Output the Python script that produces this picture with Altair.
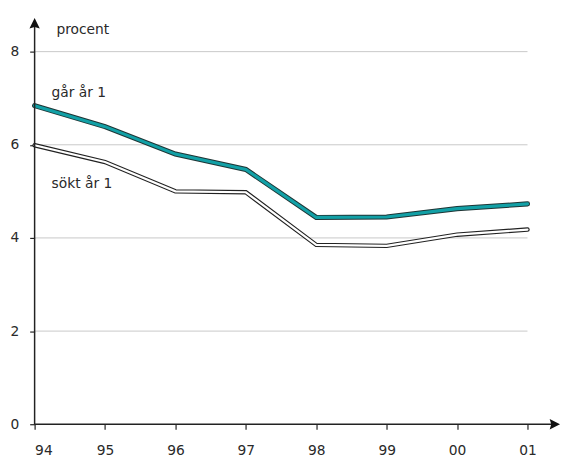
import altair as alt
import pandas as pd

years = ["94", "95", "96", "97", "98", "99", "00", "01"]
gar = [6.84, 6.39, 5.80, 5.47, 4.44, 4.45, 4.63, 4.73]
sokt = [5.99, 5.63, 5.00, 4.98, 3.85, 3.83, 4.07, 4.18]
grid_vals = [2, 4, 6, 8]
y_ticks = [0, 2, 4, 6, 8]

W = 533
XMAX = W / (500 / 7)
YMAX = 8.72

idx = list(range(len(years)))
df = pd.DataFrame({
    "i": idx * 2,
    "v": gar + sokt,
    "s": ["gar"] * len(years) + ["sokt"] * len(years),
})
grid_df = pd.DataFrame({"y": grid_vals, "x0": [0] * 4, "x1": [7] * 4})

xscale = alt.Scale(domain=[0, XMAX], nice=False, zero=False)
yscale = alt.Scale(domain=[0, YMAX], nice=False, zero=False)
FONT = "DejaVu Sans"
label_expr = "[" + ",".join("'" + y + "'" for y in years) + "][datum.value]"

xaxis = alt.Axis(values=idx, labelExpr=label_expr, domain=False, grid=False,
                 tickColor="#222", tickSize=5, tickWidth=1.2, labelFontSize=14,
                 labelFont=FONT, labelColor="#2a2a2a", labelPadding=15, title=None)
yaxis = alt.Axis(values=y_ticks, domain=False, grid=False, tickColor="#222",
                 tickSize=5, tickWidth=1.2, labelFontSize=14, labelFont=FONT,
                 labelColor="#2a2a2a", labelPadding=11, title=None)

base = alt.Chart(df)

grid = alt.Chart(grid_df).mark_rule(color="#c8c8c8", strokeWidth=1).encode(
    x=alt.X("x0:Q", scale=xscale, axis=xaxis),
    x2="x1:Q",
    y=alt.Y("y:Q", scale=yscale, axis=yaxis),
)

xline = alt.Chart(pd.DataFrame({"a": [0]})).mark_rule(color="#222", strokeWidth=1.5).encode(
    x=alt.X("a:Q", scale=xscale), x2=alt.datum(XMAX - 0.1), y=alt.Y("a:Q", scale=yscale)
)
yline = alt.Chart(pd.DataFrame({"a": [0]})).mark_rule(color="#222", strokeWidth=1.5).encode(
    y=alt.Y("a:Q", scale=yscale), y2=alt.datum(YMAX - 0.15), x=alt.X("a:Q", scale=xscale)
)
arrow_x = alt.Chart(pd.DataFrame({"x": [XMAX], "y": [0]})).mark_point(
    shape="M0,0L-2,-1L-1.7,0L-2,1Z", filled=True, color="#111", opacity=1, size=110
).encode(x=alt.X("x:Q", scale=xscale), y=alt.Y("y:Q", scale=yscale))
arrow_y = alt.Chart(pd.DataFrame({"x": [0], "y": [YMAX]})).mark_point(
    shape="M0,0L-1,2L0,1.7L1,2Z", filled=True, color="#111", opacity=1, size=110
).encode(x=alt.X("x:Q", scale=xscale), y=alt.Y("y:Q", scale=yscale))

def line(series, color, width):
    return base.transform_filter(alt.datum.s == series).mark_line(
        color=color, strokeWidth=width, strokeCap="round"
    ).encode(x=alt.X("i:Q", scale=xscale), y=alt.Y("v:Q", scale=yscale))

lines = [
    line("sokt", "#222", 4.5), line("sokt", "#ffffff", 2.2),
    line("gar", "#1e3535", 5.2), line("gar", "#12a0a6", 3.2),
]

labels = pd.DataFrame({
    "x": [0.31, 0.24, 0.24],
    "y": [8.47, 7.11, 5.16],
    "t": ["procent", "går år 1", "sökt år 1"],
})
texts = alt.Chart(labels).mark_text(align="left", baseline="middle", fontSize=14,
                                    font=FONT, color="#2a2a2a").encode(
    x=alt.X("x:Q", scale=xscale), y=alt.Y("y:Q", scale=yscale), text="t:N"
)

chart = alt.layer(grid, *lines, xline, yline, arrow_x, arrow_y, texts).properties(
    width=W, height=412,
    autosize=alt.AutoSizeParams(type="none"),
    padding={"left": 27, "top": 7, "right": 1, "bottom": 30},
).configure_view(stroke=None)

chart.save("out.html", embed_options={"renderer": "svg", "actions": False})
